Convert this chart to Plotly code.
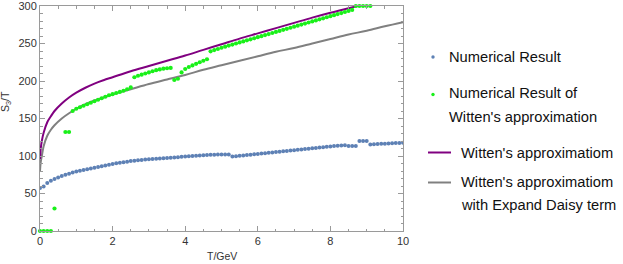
import plotly.graph_objects as go

# ---------------- data ----------------
T_num = [round(i * 0.1, 1) for i in range(101)]
S_num = [57.5, 59.5, 64, 67, 69.5, 71.5, 73.5, 75, 76.5, 78,
         79.5, 80.5, 81.5, 82.5, 83.5, 84.5, 85.5, 86.5, 87.5, 88.5,
         89.5, 90.3, 91, 91.8, 92.5, 93.2, 93.8, 94.3, 94.8, 95.2,
         95.6, 96, 96.4, 96.7, 97, 97.4, 97.8, 98.1, 98.5, 99,
         99.4, 99.7, 100, 100.4, 100.8, 101.1, 101.5, 101.7, 101.8, 101.9,
         102, 102, 102.1, 99.2, 99.7, 100.2, 100.7, 101.2, 101.7, 102.3,
         102.8, 103.3, 103.8, 104.3, 104.8, 105.3, 105.8, 106.3, 106.8, 107.3,
         107.8, 108.3, 108.8, 109.3, 109.8, 110.3, 110.8, 111.3, 111.8, 112.3,
         112.8, 113.2, 113.6, 114, 114.4, 113.2, 113.2, 113.3, 120, 120,
         120, 115.5, 115.8, 116, 116.2, 116.5, 116.7, 117, 117.2, 117.5, 117.8]

T_wit_num = [round(i * 0.1, 1) for i in range(92)]
S_wit_num = [0, 0, 0, 0, 30, None, None, 132, 132, 160,
             163, 165, 167, 169, 171, 173, 175, 177, 179, 181,
             182.5, 184, 185.5, 187, 189, 191.5, 205, 207, 208.5, 210,
             211.5, 213, 214.5, 215.5, 216.5, 217, 217.5, 201.3, 203, 211.5,
             216, 218.7, 220.8, 222.9, 225, 227, 229, 239.6, 241.2, 242.7,
             244.3, 245.8, 247.2, 248.6, 250, 251.4, 252.8, 254.2, 255.6, 257,
             258.4, 259.8, 261.2, 262.6, 264, 265.4, 266.8, 268.2, 269.6, 271,
             272.4, 273.8, 275.2, 276.6, 278, 279.4, 280.8, 282.2, 283.6, 285,
             286.4, 287.8, 289.2, 290.6, 292, 293.4, 294.8, 300, 300, 300,
             300, 300]

T_wit = [0, 0.02, 0.05, 0.1, 0.2, 0.3, 0.4, 0.6, 0.8, 1.0, 1.25, 1.5, 1.75, 2.0,
         2.5, 3.0, 3.5, 4.0, 4.5, 5.0, 5.5, 6.0, 6.5, 7.0, 7.5, 8.0, 8.5, 8.75]
S_wit = [96, 110, 120, 131, 145, 153, 160, 170, 178, 184.5, 191, 196.5, 201, 205,
         213, 220, 227, 234, 241.5, 249, 256.5, 263.5, 270.5, 277.5, 284.5, 291, 297, 300]

T_daisy = [0, 0.02, 0.05, 0.1, 0.2, 0.3, 0.4, 0.6, 0.8, 1.0, 1.25, 1.5, 1.75, 2.0,
           2.5, 3.0, 3.5, 4.0, 4.5, 5.0, 5.5, 6.0, 6.5, 7.0, 7.5, 8.0, 8.5, 9.0, 9.5, 10.0]
S_daisy = [80, 92, 100, 113, 127, 135, 141, 150, 157, 163, 169, 174, 178, 182,
           189, 196, 202, 208, 215, 221, 227, 233, 239, 244, 250, 256, 262, 267, 273, 278.5]

x_ticks = [0, 2, 4, 6, 8, 10]
y_ticks = [0, 50, 100, 150, 200, 250, 300]

legend_names = ["Numerical Result",
                "Numerical Result of<br>Witten's approximation",
                "Witten's approximatiom",
                "Witten's approximatiom<br>with Expand Daisy term"]

BLUE = "#5E81B5"
GREEN = "#19F019"
PURPLE = "#800080"
GRAY = "#808080"

W, H = 623, 264
L, R, T, B = 40, 403, 6, 231

fig = go.Figure()
fig.add_trace(go.Scatter(x=T_daisy, y=S_daisy, mode="lines", line=dict(color=GRAY, width=2),
                         line_shape="spline", showlegend=False))
fig.add_trace(go.Scatter(x=T_wit, y=S_wit, mode="lines", line=dict(color=PURPLE, width=2),
                         line_shape="spline", showlegend=False))
fig.add_trace(go.Scatter(x=T_wit_num, y=S_wit_num, mode="markers",
                         marker=dict(color=GREEN, size=4.2, line=dict(width=0)),
                         cliponaxis=False, showlegend=False))
fig.add_trace(go.Scatter(x=T_num, y=S_num, mode="markers",
                         marker=dict(color=BLUE, size=4, line=dict(width=0)),
                         showlegend=False))

axis_common = dict(showline=True, linecolor="#9a9a9a", linewidth=1, mirror="ticks",
                   ticks="inside", ticklen=5, tickcolor="#9a9a9a", tickwidth=1,
                   showgrid=False, zeroline=False, automargin=False,
                   ticklabeloverflow="allow",
                   tickfont=dict(family="Liberation Sans, Arial", size=11, color="#333333"))

fig.update_xaxes(range=[0, 10], tickvals=x_ticks, ticktext=[str(v) for v in x_ticks],
                 minor=dict(dtick=0.5, ticks="inside", ticklen=2.5, tickcolor="#9a9a9a"),
                 **axis_common)
fig.update_yaxes(range=[0, 300], tickvals=y_ticks, ticktext=[str(v) for v in y_ticks],
                 minor=dict(dtick=10, ticks="inside", ticklen=2.5, tickcolor="#9a9a9a"),
                 **axis_common)


def px(x):
    return (x - L) / (R - L)


def py(y):
    return (B - y) / (B - T)


font = dict(family="Liberation Sans, Arial", size=14.7, color="#111111")
shapes = []
annotations = []
# legend symbols
shapes.append(dict(type="circle", xref="paper", yref="paper", x0=px(431.3), x1=px(434.7),
                   y0=py(58.7), y1=py(55.3), fillcolor=BLUE, line=dict(width=0)))
shapes.append(dict(type="circle", xref="paper", yref="paper", x0=px(431.3), x1=px(434.7),
                   y0=py(96.2), y1=py(92.8), fillcolor=GREEN, line=dict(width=0)))
shapes.append(dict(type="line", xref="paper", yref="paper", x0=px(428), x1=px(451),
                   y0=py(152.5), y1=py(152.5), line=dict(color=PURPLE, width=2)))
shapes.append(dict(type="line", xref="paper", yref="paper", x0=px(428), x1=px(451),
                   y0=py(182.5), y1=py(182.5), line=dict(color=GRAY, width=2)))

legend_pos = [(447, 57, None), (447, 93.5, 117), (459, 152.5, None), (459, 182, 205)]
for name, (lx, ly1, ly2) in zip(legend_names, legend_pos):
    parts = name.split("<br>")
    annotations.append(dict(text=parts[0], xref="paper", yref="paper", x=px(lx), y=py(ly1),
                            xanchor="left", yanchor="middle", showarrow=False, font=font))
    if ly2 is not None:
        annotations.append(dict(text=parts[1], xref="paper", yref="paper", x=px(lx), y=py(ly2),
                                xanchor="left", yanchor="middle", showarrow=False, font=font))

# axis titles
annotations.append(dict(text="T/GeV", xref="paper", yref="paper", x=px(222), y=py(256),
                        xanchor="center", yanchor="middle", showarrow=False,
                        font=dict(family="Liberation Sans, Arial", size=10.5, color="#333333")))
annotations.append(dict(text="S<sub>3</sub>/T", xref="paper", yref="paper", x=px(6), y=py(102),
                        xanchor="center", yanchor="middle", showarrow=False, textangle=-90,
                        font=dict(family="Liberation Sans, Arial", size=10.5, color="#333333")))

fig.update_layout(width=W, height=H, margin=dict(l=L, r=W - R, t=T, b=H - B),
                  plot_bgcolor="white", paper_bgcolor="white",
                  shapes=shapes, annotations=annotations, showlegend=False)

fig.write_html("out.html", config={"displayModeBar": False},
               post_script="document.body.style.margin='0';document.body.style.overflow='hidden';")
